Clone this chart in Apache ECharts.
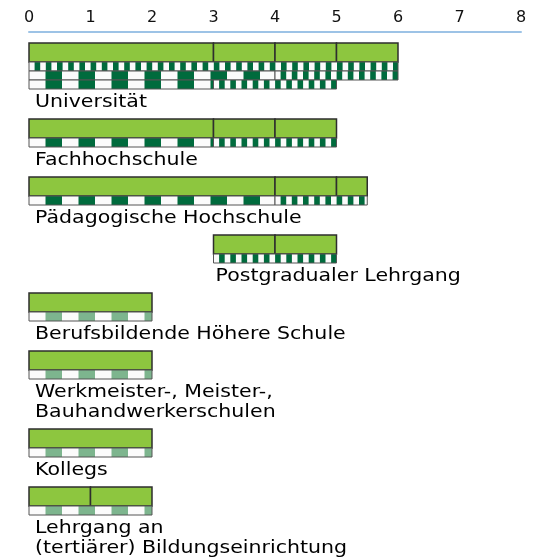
<!DOCTYPE html>
<html>
<head>
<meta charset="utf-8">
<script src="https://cdn.jsdelivr.net/npm/echarts@6/dist/echarts.min.js"></script>
<style>
  html, body { margin: 0; padding: 0; background: #fff; }
  #chart { width: 546px; height: 558px; }
</style>
</head>
<body>
<div id="chart"></div>
<script>
var years = [0, 1, 2, 3, 4, 5, 6, 7, 8];

var programs = [
  'Universität',
  'Fachhochschule',
  'Pädagogische Hochschule',
  'Postgradualer Lehrgang',
  'Berufsbildende Höhere Schule',
  'Werkmeister-, Meister-,\nBauhandwerkerschulen',
  'Kollegs',
  'Lehrgang an\n(tertiärer) Bildungseinrichtung'
];

// Abschnitte in Jahren [von, bis]
var phases = [
  [[0, 3], [3, 4], [4, 5], [5, 6]],
  [[0, 3], [3, 4], [4, 5]],
  [[0, 4], [4, 5], [5, 5.5]],
  [[3, 4], [4, 5]],
  [[0, 2]],
  [[0, 2]],
  [[0, 2]],
  [[0, 1], [1, 2]]
];

// Streifenzeilen unter den Balken: [muster, von, bis]
var stripes = [
  [[['fein', 0, 6]], [['grob', 0, 4], ['fein', 4, 6]], [['grob', 0, 3], ['fein', 3, 5]]],
  [[['grob', 0, 3], ['fein', 3, 5]]],
  [[['grob', 0, 4], ['fein', 4, 5.5]]],
  [[['fein', 3, 5]]],
  [[['hell', 0, 2]]],
  [[['hell', 0, 2]]],
  [[['hell', 0, 2]]],
  [[['hell', 0, 2]]]
];

// Layout (y-Einheiten = Pixel unter der Achse)
var BAR_H = 19, ROW_H = 9, LINE_H = 20, GAP = 10, FIRST = 11;
var muster = {
  grob: { color: '#006b3d', half: 16.5 },
  fein: { color: '#006b3d', half: 5.6 },
  hell: { color: '#7db58e', half: 16.5 }
};

var items = [];
var y = FIRST;
programs.forEach(function (name, i) {
  phases[i].forEach(function (ph) {
    items.push({ kind: 'bar', value: [ph[0], ph[1], y] });
  });
  stripes[i].forEach(function (row, r) {
    row.forEach(function (seg) {
      items.push({ kind: seg[0], value: [seg[1], seg[2], y + BAR_H + r * ROW_H] });
    });
  });
  var start = Math.min.apply(null, phases[i].map(function (p) { return p[0]; }));
  var labelTop = y + BAR_H + stripes[i].length * ROW_H + 3;
  items.push({ kind: 'label', value: [start, start, labelTop], name: name });
  var lines = name.split('\n').length;
  y += BAR_H + stripes[i].length * ROW_H + lines * LINE_H + GAP;
});

function renderItem(params, api) {
  var it = items[params.dataIndex];
  var s = it.value[0], e = it.value[1], top = it.value[2];
  if (it.kind === 'label') {
    var pt = api.coord([s, top]);
    return {
      type: 'text',
      x: pt[0] + (s > 0 ? 2 : 6),
      y: pt[1],
      scaleX: 1.14,
      style: {
        text: it.name,
        font: '18px "DejaVu Sans"',
        fill: '#000',
        lineHeight: LINE_H,
        verticalAlign: 'top'
      }
    };
  }
  var h = it.kind === 'bar' ? BAR_H : ROW_H;
  var p0 = api.coord([s, top]);
  var p1 = api.coord([e, top + h]);
  var rect = { x: p0[0], y: p0[1], width: p1[0] - p0[0], height: p1[1] - p0[1] };
  if (it.kind === 'bar') {
    return {
      type: 'rect',
      shape: rect,
      style: { fill: '#8dc63f', stroke: '#2e2e2e', lineWidth: 1.5 }
    };
  }
  var m = muster[it.kind];
  var children = [{ type: 'rect', shape: rect, style: { fill: '#fbfbfb' } }];
  for (var x = rect.x + m.half; x < rect.x + rect.width; x += 2 * m.half) {
    children.push({
      type: 'rect',
      shape: { x: x, y: rect.y, width: Math.min(m.half, rect.x + rect.width - x), height: rect.height },
      style: { fill: m.color }
    });
  }
  children.push({ type: 'rect', shape: rect, style: { fill: null, stroke: '#555', lineWidth: 1 } });
  return { type: 'group', children: children };
}

var chart = echarts.init(document.getElementById('chart'));
chart.setOption({
  animation: false,
  grid: { left: 29, right: 25, top: 32, bottom: 0, containLabel: false, outerBoundsMode: 'none' },
  xAxis: {
    type: 'value',
    position: 'top',
    min: years[0],
    max: years[years.length - 1],
    interval: 1,
    axisLine: { show: true, lineStyle: { color: '#9dc3e6', width: 2 } },
    axisTick: { show: false },
    splitLine: { show: false },
    axisLabel: { fontSize: 16, color: '#111', margin: 6, fontFamily: 'DejaVu Sans' }
  },
  yAxis: { type: 'value', inverse: true, min: 0, max: 526, show: false },
  series: [{
    type: 'custom',
    renderItem: renderItem,
    clip: false,
    encode: { x: [0, 1], y: 2 },
    data: items.map(function (d) { return d.value; })
  }]
});
</script>
</body>
</html>
